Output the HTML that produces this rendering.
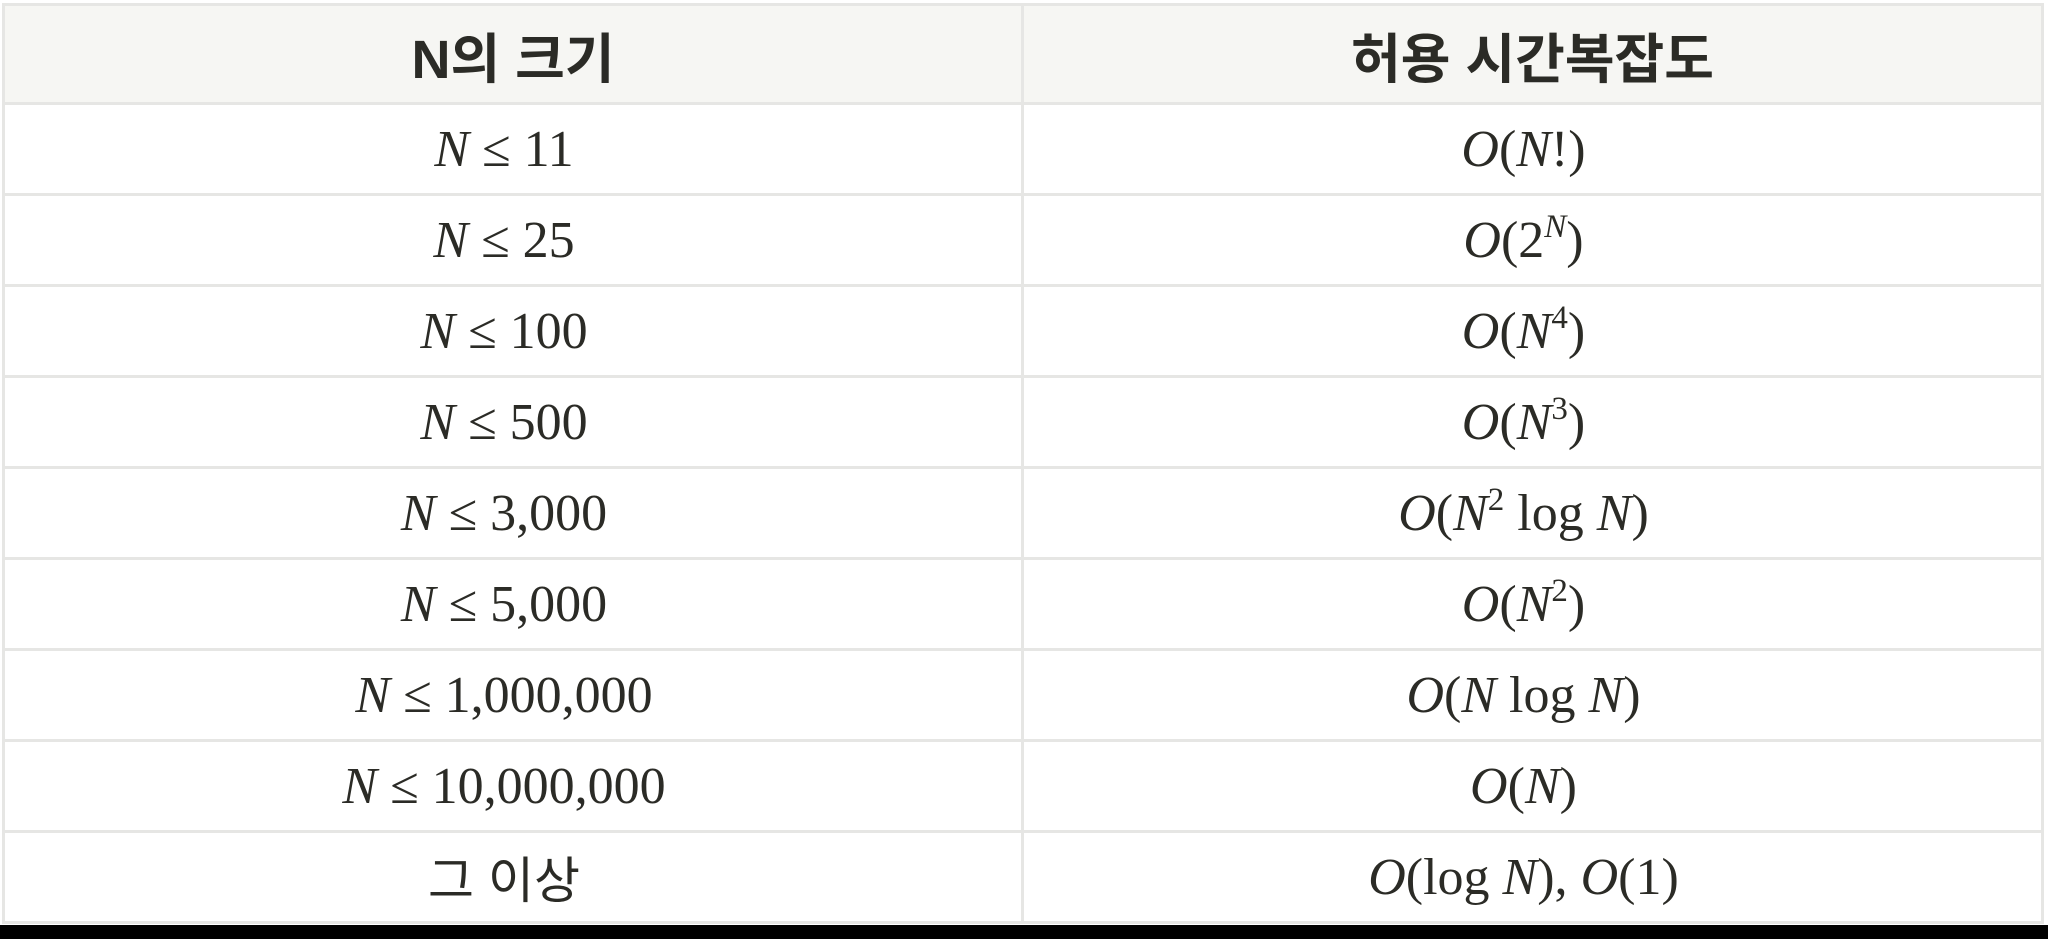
<!DOCTYPE html>
<html><head><meta charset="utf-8">
<style>
html,body{margin:0;padding:0;width:2048px;height:939px;background:#000;overflow:hidden}
#wrap{position:absolute;left:0;top:0;width:2048px;height:925px;background:#fff}
table{position:absolute;left:2px;top:3px;width:2042px;border-collapse:collapse;table-layout:fixed}
td,th{border:3px solid #e6e6e4;text-align:center;padding:0;color:#2b2b26}
th{height:96px;background:#f6f6f3;font-family:"Liberation Sans","Noto Sans CJK KR",sans-serif;font-weight:bold;font-size:54px}
td{height:88px;padding-right:18px;font-family:"Liberation Serif","Noto Serif CJK SC",serif;font-size:52px}
i{font-style:italic}
sup{font-size:33px;vertical-align:20px;line-height:0}
.kr{font-family:"Liberation Sans","Noto Sans CJK KR",sans-serif;font-size:50px}
</style></head><body>
<div id="wrap">
<table>
<colgroup><col style="width:1019px"><col></colgroup>
<tr><th>N의 크기</th><th>허용 시간복잡도</th></tr>
<tr><td><i>N</i> ≤ 11</td><td><i>O</i>(<i>N</i>!)</td></tr>
<tr><td><i>N</i> ≤ 25</td><td><i>O</i>(2<sup><i>N</i></sup>)</td></tr>
<tr><td><i>N</i> ≤ 100</td><td><i>O</i>(<i>N</i><sup>4</sup>)</td></tr>
<tr><td><i>N</i> ≤ 500</td><td><i>O</i>(<i>N</i><sup>3</sup>)</td></tr>
<tr><td><i>N</i> ≤ 3,000</td><td><i>O</i>(<i>N</i><sup>2</sup> log <i>N</i>)</td></tr>
<tr><td><i>N</i> ≤ 5,000</td><td><i>O</i>(<i>N</i><sup>2</sup>)</td></tr>
<tr><td><i>N</i> ≤ 1,000,000</td><td><i>O</i>(<i>N</i> log <i>N</i>)</td></tr>
<tr><td><i>N</i> ≤ 10,000,000</td><td><i>O</i>(<i>N</i>)</td></tr>
<tr><td><span class="kr">그 이상</span></td><td><i>O</i>(log <i>N</i>), <i>O</i>(1)</td></tr>
</table>
</div>
</body></html>
